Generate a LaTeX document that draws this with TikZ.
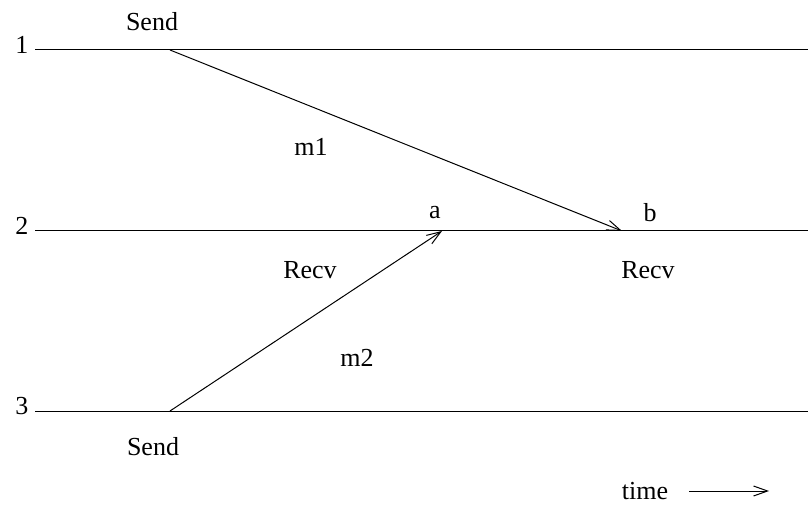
\documentclass[tikz,border=0pt]{standalone}
\usepackage{fontspec}
\setmainfont{Liberation Serif}
\usetikzlibrary{arrows.meta}

\begin{document}
\begin{tikzpicture}[x=1pt, y=-1pt, line width=1pt,
    lbl/.style={font=\fontsize{26}{30}\selectfont, inner sep=0pt},
    msg/.style={-{Straight Barb[length=14pt,width=10pt]}}]
  \useasboundingbox (0,0) rectangle (808,510);
  % process lines
  \foreach \p/\y in {1/50, 2/231, 3/411} {
    \node[lbl] (n\p) at (22,\y-5) {\p};
    \coordinate (l\p) at (35,\y);
    \coordinate (r\p) at (808,\y);
    \draw (l\p) -- (r\p);
  }
  % events
  \coordinate (send1) at (170,50);
  \coordinate (recv1) at (622,231);
  \coordinate (send2) at (170,411);
  \coordinate (recv2) at (442,231);
  % messages
  \draw[msg] (send1) -- (recv1);
  \draw[msg] (send2) -- (recv2);
  % labels
  \node[lbl] (sendtop) at (152,22) {Send};
  \node[lbl] (m1) at (311,147) {m1};
  \node[lbl] (a) at (435,213) {a};
  \node[lbl] (b) at (650,213) {b};
  \node[lbl] (recvl) at (310,270) {Recv};
  \node[lbl] (recvr) at (648,270) {Recv};
  \node[lbl] (m2) at (357,358) {m2};
  \node[lbl] (sendbot) at (153,447) {Send};
  \node[lbl] (time) at (645,491) {time};
  \coordinate (t0) at (689,491);
  \coordinate (t1) at (769,491);
  \draw[msg] (t0) -- (t1);
\end{tikzpicture}
\end{document}
